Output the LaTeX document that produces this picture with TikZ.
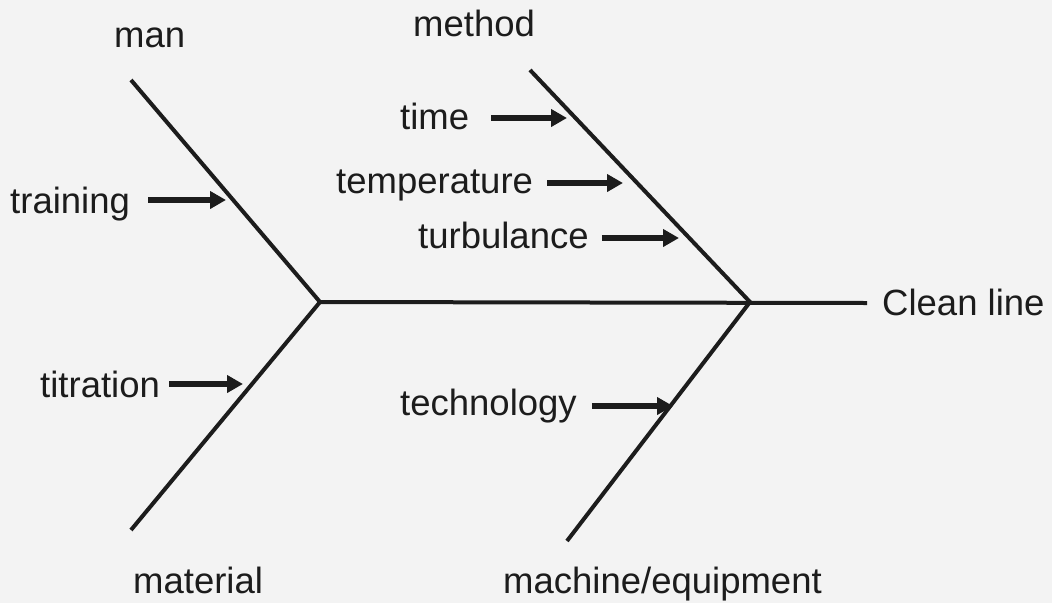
\documentclass[tikz,border=0pt]{standalone}
\usepackage{fontspec}
\setmainfont{Liberation Sans}
\usetikzlibrary{arrows.meta}
\definecolor{bg}{HTML}{F3F3F3}
\definecolor{ink}{HTML}{1C1C1C}
\begin{document}
\begin{tikzpicture}[x=1pt,y=-1pt,
  bone/.style={line width=4pt, draw=ink},
  lbl/.style={inner sep=0pt, anchor=base west, font=\fontsize{36.5}{40}\selectfont, text=ink},
  cause/.style={line width=5.5pt, draw=ink, -{Triangle[length=16pt,width=17pt]}}]
\fill[bg] (0,0) rectangle (1052,603);
\useasboundingbox (0,0) rectangle (1052,603);
% skeleton points
\coordinate (jl) at (320,302);
\coordinate (jr) at (750,302);
\coordinate (head) at (867,303);
\coordinate (manend) at (131,80);
\coordinate (matend) at (131,530);
\coordinate (metend) at (530,70);
\coordinate (macend) at (567,541);
\draw[bone] (jl) -- (head);
\draw[bone] (manend) -- (jl) -- (matend);
\draw[bone] (metend) -- (jr) -- (macend);
% category labels
\node[lbl] (man) at (114,47) {man};
\node[lbl] (method) at (413,36) {method};
\node[lbl] (material) at (133,593) {material};
\node[lbl] (machine) at (503,593) {machine/equipment};
\node[lbl] (clean) at (882,315) {Clean line};
% causes
\node[lbl] (training) at (10,213) {training};
\node[lbl] (titration) at (40,397) {titration};
\node[lbl] (time) at (400,129) {time};
\node[lbl] (temperature) at (336,193) {temperature};
\node[lbl] (turbulance) at (418,248) {turbulance};
\node[lbl] (technology) at (400,415) {technology};
% arrow tips
\coordinate (ttr) at (226,200);
\coordinate (ttit) at (243,384);
\coordinate (ttime) at (567,118);
\coordinate (ttemp) at (623,183);
\coordinate (tturb) at (679,238);
\coordinate (ttech) at (673,406);
\draw[cause] (training.east |- ttr) ++(18,0) -- (ttr);
\draw[cause] (titration.east |- ttit) ++(9,0) -- (ttit);
\draw[cause] (time.east |- ttime) ++(22,0) -- (ttime);
\draw[cause] (temperature.east |- ttemp) ++(14,0) -- (ttemp);
\draw[cause] (turbulance.east |- tturb) ++(13,0) -- (tturb);
\draw[cause] (technology.east |- ttech) ++(15,0) -- (ttech);
\end{tikzpicture}
\end{document}
